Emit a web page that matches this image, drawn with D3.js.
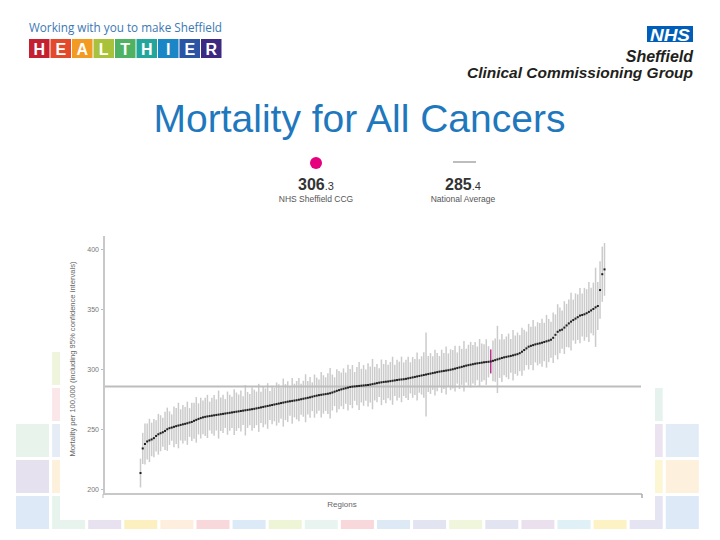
<!DOCTYPE html>
<html><head><meta charset="utf-8">
<script src="https://cdn.jsdelivr.net/npm/d3@7"></script>
<style>body{margin:0;background:#fff}svg{display:block}</style>
</head><body><svg id="c" width="720" height="540"></svg>
<script>
// ---- data ----
const values = [
213.3,233.8,237.5,239.6,240.5,241.3,242.4,244.2,245.6,246.5,
247.3,248.4,249.8,250.7,251.2,251.8,252.4,252.9,253.4,253.9,
254.3,254.8,255.4,255.9,256.8,257.6,258.4,259.1,259.7,260.1,
260.5,260.8,261.1,261.4,261.7,262.0,262.3,262.6,262.9,263.2,
263.5,263.8,264.1,264.4,264.7,265.0,265.3,265.6,265.9,266.2,
266.5,266.8,267.2,267.6,268.0,268.4,268.8,269.2,269.6,270.0,
270.4,270.8,271.2,271.6,272.0,272.4,272.8,273.1,273.4,273.7,
274.0,274.4,274.8,275.2,275.6,276.0,276.4,276.9,277.4,277.8,
278.2,278.5,278.8,279.1,279.4,279.8,280.4,281.1,281.8,282.4,
283.0,283.5,284.0,284.5,285.0,285.3,285.5,285.7,285.9,286.1,
286.3,286.5,286.7,287.0,287.4,287.8,288.2,288.6,288.9,289.2,
289.4,289.6,289.9,290.2,290.5,290.8,291.1,291.3,291.5,291.8,
292.2,292.6,293.0,293.4,293.8,294.2,294.6,295.0,295.4,295.8,
296.2,296.6,297.0,297.4,297.8,298.1,298.4,298.7,299.0,299.4,
299.8,300.3,300.8,301.3,301.8,302.3,302.8,303.2,303.6,304.0,
304.4,304.7,305.0,305.3,305.6,305.8,306.0,306.3,306.8,307.4,
308.0,308.6,309.2,309.7,310.1,310.5,310.9,311.4,311.9,312.4,
313.2,314.4,315.8,317.2,318.6,319.3,319.9,320.5,321.0,321.4,
321.9,322.5,323.1,323.7,324.4,326.0,328.5,331.0,332.2,332.8,
334.5,336.3,338.0,339.5,340.8,342.0,343.2,344.5,345.0,345.6,
346.5,347.6,348.8,350.0,351.4,352.5,365.8,379.0,383.0
];
const ciHalf = [
12,13,17,15,18,14,16,13,17,15,
12,16,18,14,11,17,15,19,13,16,
14,18,12,16,15,19,13,17,14,16,
18,12,15,17,13,20,14,16,12,18,
15,13,19,16,14,17,12,21,15,13,
18,16,14,20,13,17,15,19,12,16,
14,18,16,13,20,15,17,12,19,14,
16,18,13,15,20,14,17,12,18,15,
13,19,16,14,17,21,15,12,18,16,
14,17,13,19,15,18,12,16,20,14,
17,13,18,15,21,14,16,12,19,15,
18,14,16,20,13,17,15,19,14,16,
18,13,17,15,20,14,16,19,35,15,
17,14,19,16,13,18,15,20,14,17,
16,19,13,18,15,21,14,17,19,16,
18,14,20,16,15,19,13,10,17,18,
28,16,20,15,17,19,14,21,16,18,
15,20,17,14,19,16,21,15,18,17,
20,16,22,18,15,21,17,23,19,16,
22,18,20,24,17,21,19,23,18,22,
20,25,19,22,33,20,24,23,22
];
const highlightIndex = 157;
const ccgValue = 306.3;
const nationalAverage = 285.4;
const yTicks = [200, 250, 300, 350, 400];
const healthierLetters = ["H","E","A","L","T","H","I","E","R"];
const healthierColors = ["#c4202f","#e24a2b","#f29a22","#a9c23c","#4fb262","#22a59b","#1b86c6","#2b55a4","#3c2a82"];

// ---- drawing ----
const svg = d3.select("#c");
const FONT = "'Liberation Sans', Arial, sans-serif";

// decorative pastel tiles
const tiles = [
 [0,2,"#e7f3eb"],[0,3,"#e6e1ef"],[0,4,"#dde9f6"],
 [1,0,"#eef5dc"],[1,1,"#fbe7ea"],[1,2,"#e6ecf6"],[1,3,"#fdf1dc"],[1,4,"#e7f4ee"],
 [2,4,"#e8e2f0"],[3,4,"#fdf0c0"],[4,4,"#fdeedd"],[5,4,"#f9d8dc"],[6,4,"#dce9f6"],
 [7,4,"#eef5d6"],[8,4,"#e8f4f0"],[9,4,"#f9d8dc"],[10,4,"#dde9f5"],[11,4,"#e3e4f2"],
 [12,4,"#f0f6dc"],[13,4,"#e3e4f2"],[14,4,"#ebe0ee"],[15,4,"#dff0f7"],[16,4,"#fdf2c4"],
 [17,1,"#e5f2ee"],[17,2,"#ebe4f0"],[17,3,"#fdf6d3"],[17,4,"#e4e4f2"],
 [18,2,"#e2ecf7"],[18,3,"#fdf0dc"],[18,4,"#dde9f6"]
];
svg.append("g").selectAll("rect").data(tiles).join("rect")
  .attr("x", d => 16 + 36.1 * d[0]).attr("y", d => 352 + 36 * d[1])
  .attr("width", 33).attr("height", 33).attr("fill", d => d[2]);

// white chart panel
svg.append("rect").attr("x", 60).attr("y", 212).attr("width", 595).attr("height", 308).attr("fill", "#fff");

// header left
svg.append("text").attr("x", 29).attr("y", 32).attr("font-family", "'Open Sans', sans-serif")
  .attr("font-size", 13).attr("fill", "#3a78b5").attr("textLength", 193).attr("lengthAdjust", "spacingAndGlyphs")
  .text("Working with you to make Sheffield");
const hg = svg.append("g");
hg.selectAll("rect").data(healthierLetters).join("rect")
  .attr("x", (d, i) => 29 + i * 21.5).attr("y", 39).attr("width", 20.5).attr("height", 19)
  .attr("fill", (d, i) => healthierColors[i]);
hg.selectAll("text").data(healthierLetters).join("text")
  .attr("x", (d, i) => 29 + i * 21.5 + 10.25).attr("y", 54.5).attr("text-anchor", "middle")
  .attr("font-family", FONT).attr("font-weight", "bold").attr("font-size", 16).attr("fill", "#fff")
  .text(d => d);

// NHS logo
svg.append("rect").attr("x", 647).attr("y", 26).attr("width", 46).attr("height", 16).attr("fill", "#005eb8");
svg.append("text").attr("x", 670).attr("y", 40.5).attr("text-anchor", "middle").attr("font-family", FONT)
  .attr("font-weight", "bold").attr("font-style", "italic").attr("font-size", 16).attr("fill", "#fff")
  .attr("textLength", 40).attr("lengthAdjust", "spacingAndGlyphs").text("NHS");
svg.append("text").attr("x", 693).attr("y", 62).attr("text-anchor", "end").attr("font-family", FONT)
  .attr("font-weight", "bold").attr("font-style", "italic").attr("font-size", 16).attr("fill", "#231f20")
  .text("Sheffield");
svg.append("text").attr("x", 467).attr("y", 78).attr("font-family", FONT)
  .attr("font-weight", "600").attr("font-style", "italic").attr("font-size", 15.5).attr("fill", "#231f20")
  .attr("textLength", 226).attr("lengthAdjust", "spacingAndGlyphs").text("Clinical Commissioning Group");

// title
svg.append("text").attr("x", 359.5).attr("y", 132).attr("text-anchor", "middle").attr("font-family", FONT)
  .attr("font-size", 39).attr("fill", "#1f78bd").text("Mortality for All Cancers");

// legend
svg.append("circle").attr("cx", 316).attr("cy", 163).attr("r", 6).attr("fill", "#e5007e");
const t1 = svg.append("text").attr("x", 316).attr("y", 190).attr("text-anchor", "middle")
  .attr("font-family", FONT).attr("fill", "#333");
t1.append("tspan").attr("font-size", 16).attr("font-weight", "bold").text(String(ccgValue).split(".")[0]);
t1.append("tspan").attr("font-size", 11).text("." + String(ccgValue).split(".")[1]);
svg.append("text").attr("x", 316).attr("y", 202).attr("text-anchor", "middle").attr("font-family", FONT)
  .attr("font-size", 8.5).attr("fill", "#555").text("NHS Sheffield CCG");
svg.append("line").attr("x1", 453).attr("x2", 476).attr("y1", 162).attr("y2", 162)
  .attr("stroke", "#bdbdbd").attr("stroke-width", 2);
const t2 = svg.append("text").attr("x", 463).attr("y", 190).attr("text-anchor", "middle")
  .attr("font-family", FONT).attr("fill", "#333");
t2.append("tspan").attr("font-size", 16).attr("font-weight", "bold").text(String(nationalAverage).split(".")[0]);
t2.append("tspan").attr("font-size", 11).text("." + String(nationalAverage).split(".")[1]);
svg.append("text").attr("x", 463).attr("y", 202).attr("text-anchor", "middle").attr("font-family", FONT)
  .attr("font-size", 8.5).attr("fill", "#555").text("National Average");

// chart
const y = d3.scaleLinear().domain([200, 400]).range([489, 249]);
const x = d3.scaleLinear().domain([0, values.length - 1]).range([140.5, 604.5]);
const axisX0 = 104, axisX1 = 642, axisY0 = 236, axisY1 = 494;

// CI bars
svg.append("g").selectAll("line").data(values).join("line")
  .attr("x1", (d, i) => x(i)).attr("x2", (d, i) => x(i))
  .attr("y1", (d, i) => y(d - ciHalf[i])).attr("y2", (d, i) => y(d + ciHalf[i]))
  .attr("stroke", (d, i) => i === highlightIndex ? "#b8338c" : "#cbcbcb")
  .attr("stroke-width", 1.5);

// national average line
svg.append("line").attr("x1", axisX0).attr("x2", axisX1 - 1)
  .attr("y1", y(nationalAverage)).attr("y2", y(nationalAverage))
  .attr("stroke", "#bdbdbd").attr("stroke-width", 2);

// points
svg.append("g").selectAll("rect").data(values).join("rect")
  .attr("x", (d, i) => x(i) - 1).attr("y", d => y(d) - 1)
  .attr("width", 2).attr("height", 2).attr("fill", "#1e1e1e");

// axes
const yAxis = svg.append("g").attr("transform", `translate(${axisX0},0)`)
  .call(d3.axisLeft(y).tickValues(yTicks).tickSize(3).tickPadding(2).tickFormat(d3.format("d")));
yAxis.select(".domain").remove();
yAxis.selectAll(".tick line").attr("stroke", "#bbb");
yAxis.selectAll(".tick text").attr("font-family", FONT).attr("font-size", 7).attr("fill", "#777");
svg.append("line").attr("x1", axisX0).attr("x2", axisX0).attr("y1", axisY0).attr("y2", axisY1)
  .attr("stroke", "#c8c8c8").attr("stroke-width", 2);
svg.append("line").attr("x1", axisX0 - 1).attr("x2", axisX1).attr("y1", axisY1).attr("y2", axisY1)
  .attr("stroke", "#c8c8c8").attr("stroke-width", 2);
svg.append("line").attr("x1", axisX1).attr("x2", axisX1).attr("y1", axisY1).attr("y2", axisY1 + 4)
  .attr("stroke", "#aaa").attr("stroke-width", 1.5);
svg.append("line").attr("x1", axisX0 - 1).attr("x2", axisX0 - 1).attr("y1", axisY1).attr("y2", axisY1 + 4)
  .attr("stroke", "#bbb").attr("stroke-width", 1);

svg.append("text").attr("x", 342).attr("y", 507).attr("text-anchor", "middle").attr("font-family", FONT)
  .attr("font-size", 8).attr("fill", "#666").text("Regions");
svg.append("text").attr("transform", "translate(75,359) rotate(-90)").attr("text-anchor", "middle")
  .attr("font-family", FONT).attr("font-size", 7.6).attr("fill", "#666")
  .text("Mortality per 100,000 (including 95% confidence intervals)");
</script></body></html>
